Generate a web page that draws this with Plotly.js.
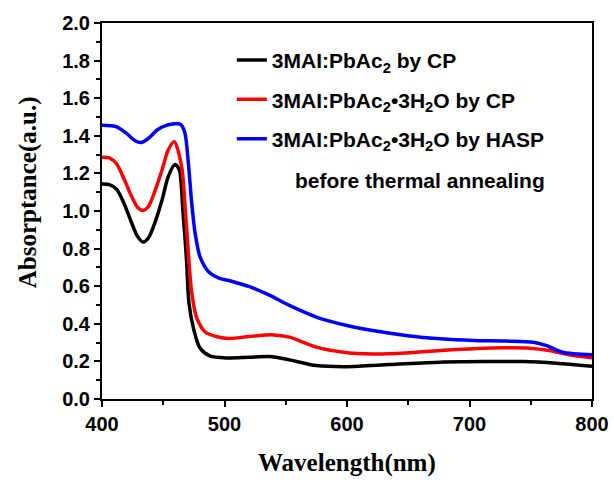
<!DOCTYPE html>
<html>
<head>
<meta charset="utf-8">
<script src="https://cdn.plot.ly/plotly-3.0.1.min.js"></script>
<style>html,body{margin:0;padding:0;background:#fff;}#chart{width:614px;height:480px;}</style>
</head>
<body>
<div id="chart"></div>
<script>
// Series names
var seriesNames = [
  "3MAI:PbAc<sub>2</sub> by CP",
  "3MAI:PbAc<sub>2</sub>\u20223H<sub>2</sub>O by CP",
  "3MAI:PbAc<sub>2</sub>\u20223H<sub>2</sub>O by HASP"
];
var noteText = "before thermal annealing";
var xTitle = "Wavelength(nm)";
var yTitle = "Absorptance(a.u.)";

// Black: 3MAI:PbAc2 by CP
var wlBlack = [400, 406, 412, 418, 424, 429, 433.5, 438, 443, 449, 454, 459.5, 463, 466, 469, 471, 475, 480, 488, 502, 520, 537, 553, 575, 600, 635, 676, 716, 744, 771, 800];
var absBlack = [1.143, 1.14, 1.115, 1.04, 0.94, 0.865, 0.835, 0.858, 0.934, 1.058, 1.182, 1.247, 1.22, 1.005, 0.739, 0.51, 0.367, 0.271, 0.229, 0.218, 0.222, 0.226, 0.208, 0.178, 0.172, 0.183, 0.196, 0.199, 0.199, 0.19, 0.174];

// Red: 3MAI:PbAc2·3H2O by CP
var wlRed = [400, 406, 412, 418, 424, 429, 433.5, 438, 443, 449, 454, 459, 465, 468, 470.5, 473, 477, 484, 494, 504, 520, 540, 553, 575, 597, 621, 648, 676, 703, 730, 749, 765, 785, 800];
var absRed = [1.286, 1.282, 1.25, 1.17, 1.08, 1.02, 1.003, 1.025, 1.103, 1.218, 1.324, 1.369, 1.236, 1.005, 0.776, 0.58, 0.438, 0.358, 0.331, 0.322, 0.332, 0.341, 0.329, 0.276, 0.249, 0.24, 0.245, 0.258, 0.267, 0.272, 0.27, 0.258, 0.231, 0.219];

// Blue: 3MAI:PbAc2·3H2O by HASP
var wlBlue = [400, 412, 420, 427, 432, 438, 445, 453, 458, 464, 467.5, 470.5, 473, 476, 480, 487, 496, 505, 521, 537, 553, 575, 600, 621, 648, 676, 703, 730, 752, 763, 776, 800];
var absBlue = [1.456, 1.448, 1.413, 1.374, 1.364, 1.387, 1.431, 1.457, 1.463, 1.462, 1.42, 1.255, 1.058, 0.883, 0.757, 0.677, 0.642, 0.628, 0.596, 0.551, 0.498, 0.436, 0.391, 0.364, 0.338, 0.32, 0.311, 0.308, 0.302, 0.284, 0.249, 0.235];

var xTickVals = [400, 500, 600, 700, 800];
var yTickVals = [0.0, 0.2, 0.4, 0.6, 0.8, 1.0, 1.2, 1.4, 1.6, 1.8, 2.0];

var colors = ["#000000", "#ff0000", "#0000ff"];
var xs = [wlBlack, wlRed, wlBlue];
var ys = [absBlack, absRed, absBlue];

var traces = [];
for (var i = 0; i < 3; i++) {
  traces.push({
    x: xs[i], y: ys[i], type: "scatter", mode: "lines",
    name: seriesNames[i],
    legendgroup: "g" + i,
    line: {color: colors[i], width: 3.5, shape: "spline", smoothing: 0.8}
  });
}

var tickFont = {family: "Liberation Sans, Arial, sans-serif", size: 20, color: "#000", weight: "bold"};
var titleFont = {family: "Liberation Serif, Times New Roman, serif", size: 25, color: "#000", weight: "bold"};

var layout = {
  width: 614, height: 480,
  margin: {l: 102, r: 22, t: 23, b: 81},
  paper_bgcolor: "#ffffff", plot_bgcolor: "#ffffff",
  showlegend: true,
  legend: {
    x: 0.265, y: 0.955, xanchor: "left", yanchor: "top",
    font: {family: "Liberation Sans, Arial, sans-serif", size: 21, color: "#000", weight: "bold"},
    bgcolor: "rgba(0,0,0,0)", tracegroupgap: 9, traceorder: "grouped"
  },
  xaxis: {
    range: [400, 800], tickvals: xTickVals, ticktext: xTickVals.map(String),
    ticks: "outside", ticklen: 6, tickwidth: 2, tickcolor: "#000",
    showline: true, linewidth: 2, linecolor: "#000", mirror: true,
    showgrid: false, zeroline: false, tickfont: tickFont,
    minor: {dtick: 50, tick0: 400, ticks: "outside", ticklen: 4, tickwidth: 2, tickcolor: "#000", showgrid: false}
  },
  yaxis: {
    range: [0, 2.0], tickvals: yTickVals, ticktext: yTickVals.map(function(v){return v.toFixed(1);}),
    ticks: "outside", ticklen: 6, tickwidth: 2, tickcolor: "#000",
    showline: true, linewidth: 2, linecolor: "#000", mirror: true,
    showgrid: false, zeroline: false, tickfont: tickFont,
    minor: {dtick: 0.1, tick0: 0, ticks: "outside", ticklen: 4, tickwidth: 2, tickcolor: "#000", showgrid: false}
  },
  annotations: [
    {text: noteText, xref: "paper", yref: "paper", x: 0.649, y: 0.58, xanchor: "center", yanchor: "middle",
     showarrow: false, font: {family: "Liberation Sans, Arial, sans-serif", size: 21, color: "#000", weight: "bold"}},
    {text: xTitle, xref: "paper", yref: "paper", x: 0.5, y: -0.171, xanchor: "center", yanchor: "middle",
     showarrow: false, font: titleFont},
    {text: yTitle, xref: "paper", yref: "paper", x: -0.151, y: 0.55, xanchor: "center", yanchor: "middle",
     textangle: -90, showarrow: false, font: titleFont}
  ]
};

Plotly.newPlot("chart", traces, layout, {displayModeBar: false, staticPlot: true});
</script>
</body>
</html>
